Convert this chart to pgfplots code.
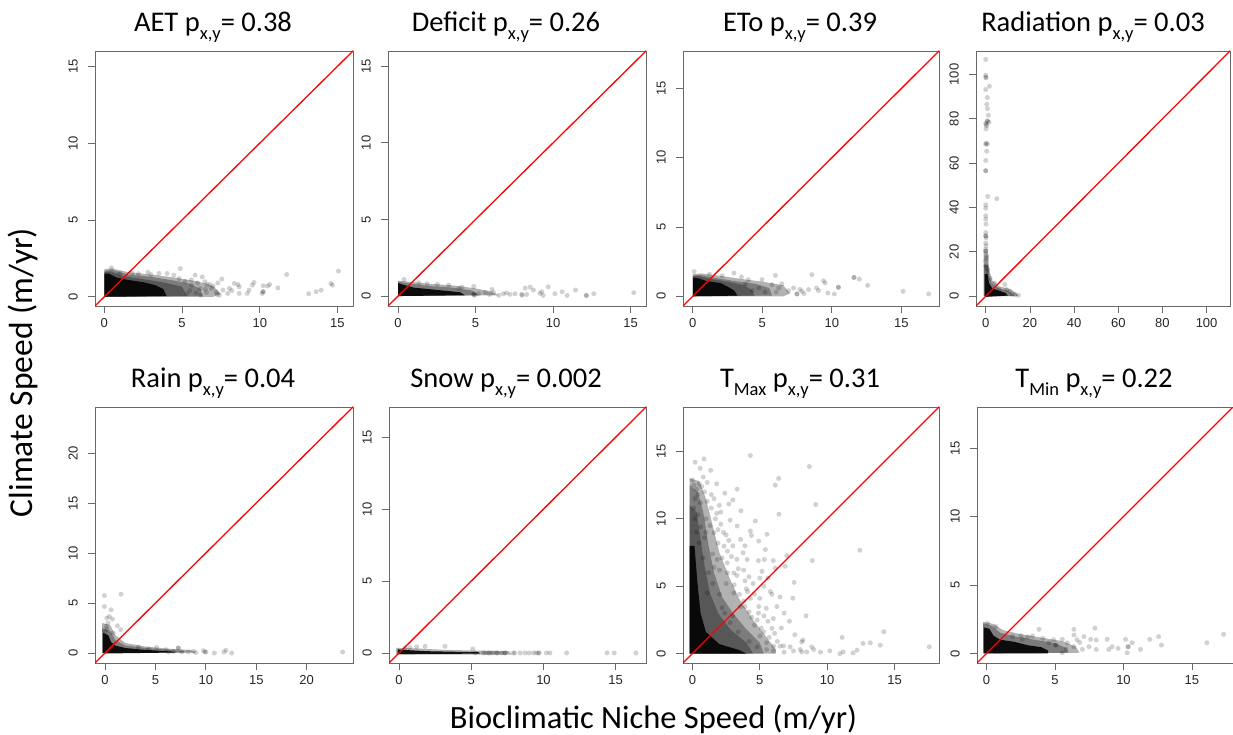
\documentclass[border=0pt]{standalone}
\usepackage{pgfplots}
\pgfplotsset{compat=1.18}
\usepackage{fontspec}
\setmainfont{Carlito}
\newfontfamily\arialf{Liberation Sans}
\newcommand{\sub}[1]{\raisebox{-0.27em}{\fontsize{18.5}{18.5}\selectfont #1}}
\definecolor{framegray}{RGB}{105,105,105}
\pgfplotsset{
  panel/.style={
    scale only axis, anchor=south west,
    axis line style={draw=framegray, line width=0.8pt},
    tick style={draw=framegray, line width=0.8pt},
    tick align=outside, tick pos=left, major tick length=7pt,
    tick label style={font=\arialf\fontsize{13}{13}\selectfont, text=black!85},
    /pgf/number format/assume math mode=true,
    xticklabel style={anchor=north, inner sep=0pt},
    yticklabel style={rotate=90, anchor=south, inner sep=0pt},
    xticklabel shift=5pt, yticklabel shift=10pt,
    clip=true,
  },
  pts/.style={only marks, mark=*, mark size=2.5pt, mark options={draw opacity=0, fill=black, fill opacity=0.18}},
  core/.style={draw=none, fill=black, fill opacity=0.9},
  lay/.style={draw=none, fill=black, fill opacity=0.3},
  diag/.style={red, line width=1.3pt},
}
\begin{document}
\begin{tikzpicture}[x=1pt,y=1pt]
\useasboundingbox (0,0) rectangle (1233,734);
% ---------------- AET
\begin{axis}[panel, at={(95pt,428pt)}, width=258pt, height=255pt,
  xmin=-0.6, xmax=16.0, ymin=-0.6, ymax=16.0, xtick={0,5,10,15}, ytick={0,5,10,15}]
\addplot[lay] coordinates {(0,0)(0,1.8)(0.5,1.85)(1.5,1.6)(3,1.45)(4.5,1.25)(6,1.0)(7,0.7)(7.5,0.2)(7,0)(0,0)};
\addplot[lay] coordinates {(0,0)(0,1.7)(0.5,1.75)(1.5,1.45)(3,1.3)(4.5,1.05)(5.5,0.85)(6.2,0.5)(6.3,0.05)(0,0)};
\addplot[lay] coordinates {(0,0)(0,1.6)(0.4,1.65)(1.2,1.35)(2.5,1.15)(4,0.9)(5,0.65)(5.3,0.05)(0,0)};
\addplot[core] coordinates {(0,0)(0,1.5)(0.3,1.5)(0.8,1.25)(1.5,1.1)(2.5,0.95)(3.3,0.75)(3.8,0.5)(4.0,0.05)(0,0)};
\addplot[pts] coordinates {(15.06,1.67)(14.58,0.87)(14.68,0.76)(13.95,0.43)(13.63,0.33)(13.15,0.2)(11.73,1.45)(11.17,0.58)(10.64,0.8)(10.22,0.72)(10.22,0.33)(10.15,0.22)(9.63,0.93)(9.52,0.76)(9.31,0.43)(9.2,0.22)(8.68,0.65)(8.68,0.22)(8.36,0.87)(8.05,0.54)(7.94,0.22)(7.56,1.15)(7.63,0.43)(7.27,0.15)(6.89,0.54)(6.78,0.8)(6.57,0.28)(6.47,0.98)(6.3,1.3)(5.84,1.41)(6.15,0.54)(5.62,0.76)(4.89,1.84)(4.82,1.19)(4.47,1.41)(4.04,1.52)(3.52,1.52)(0.46,1.89)(0.99,1.52)(2.2,1.5)(3,1.45)(5.2,1.0)(5.5,0.4)(6.0,0.9)(7.0,0.7)(7.2,0.3)(8.2,0.4)(5.3,0.2)(6.2,0.1)(2.8,1.6)(1.8,1.55)(10.5,0.7)(8.6,0.8)(6.5,0.5)(10.22,0.33)(7.4,0.1)(5.6,1.1)(6.6,0.8)(7.3,0.9)(5.9,0.25)};
\addplot[diag] coordinates {(-10,-10)(200,200)};
\end{axis}
% ---------------- Deficit
\begin{axis}[panel, at={(388pt,428pt)}, width=258pt, height=255pt,
  xmin=-0.65, xmax=16.0, ymin=-0.65, ymax=16.0, xtick={0,5,10,15}, ytick={0,5,10,15}]
\addplot[lay] coordinates {(0,0)(0,1.0)(0.6,0.95)(2,0.8)(3.5,0.7)(5,0.5)(6,0.3)(6.5,0.05)(0,0)};
\addplot[lay] coordinates {(0,0)(0,0.95)(0.5,0.85)(2,0.65)(3.5,0.55)(4.8,0.35)(5.2,0.05)(0,0)};
\addplot[core] coordinates {(0,0)(0,0.85)(0.3,0.75)(1,0.55)(2,0.45)(3,0.35)(4,0.25)(4.3,0.05)(0,0)};
\addplot[pts] coordinates {(15.21,0.22)(12.63,0.15)(12.15,0.04)(11.45,0.39)(10.91,0.04)(10.59,0.28)(10.12,0.15)(9.69,0.6)(9.37,0.04)(9.27,0.28)(9.16,0.17)(8.52,0.58)(8.73,0.39)(8.2,0.52)(7.98,0.11)(7.55,0.15)(7.23,0.11)(6.8,0.15)(6.16,0.22)(6.06,0.43)(5.63,0.22)(4.88,0.63)(4.88,0.11)(4.12,0.58)(3.92,0.5)(3.27,0.71)(2.53,0.76)(1.88,0.8)(1.35,0.86)(0.39,1.08)(5.2,0.15)(5.9,0.1)(6.5,0.05)(7.0,0.2)(8.0,0.05)(4.95,0.05)(8.3,0.1)(4.88,0.11)(12.15,0.04)};
\addplot[diag] coordinates {(-10,-10)(200,200)};
\end{axis}
% ---------------- ETo
\begin{axis}[panel, at={(683pt,428pt)}, width=256pt, height=255pt,
  xmin=-0.7, xmax=17.7, ymin=-0.7, ymax=17.7, xtick={0,5,10,15}, ytick={0,5,10,15}]
\addplot[lay] coordinates {(0,0)(0,1.6)(0.6,1.65)(1.8,1.5)(3.5,1.25)(5,1.05)(6.5,0.8)(7,0.2)(6.5,0)(0,0)};
\addplot[lay] coordinates {(0,0)(0,1.5)(0.5,1.55)(1.5,1.35)(3,1.1)(4.5,0.9)(5.5,0.6)(5.7,0.05)(0,0)};
\addplot[lay] coordinates {(0,0)(0,1.45)(0.5,1.45)(1.3,1.25)(2.5,1.05)(3.7,0.8)(4.3,0.4)(4.4,0.05)(0,0)};
\addplot[core] coordinates {(0,0)(0,1.35)(0.4,1.3)(1,1.1)(2,0.95)(2.5,0.7)(3,0.4)(3.2,0.05)(0,0)};
\addplot[pts] coordinates {(16.96,0.17)(15.12,0.36)(12.57,0.79)(11.97,1.24)(11.59,1.36)(10.47,0.65)(10.18,0.17)(9.71,0.24)(9.52,0.96)(9.4,1.12)(9.04,0.41)(8.56,1.56)(8.32,0.48)(7.85,0.36)(7.49,0.17)(7.25,0.6)(6.89,0.41)(5.94,1.51)(6.18,0.6)(5.7,0.84)(4.98,1.2)(4.75,0.6)(4.27,0.41)(2.96,1.67)(2.12,1.48)(0.1,1.79)(3.5,1.4)(4,1.2)(5.2,0.3)(6,0.3)(6.4,0.9)(7.7,0.5)(8,0.2)(8.9,0.6)(3.8,0.9)(1.2,1.6)(11.59,1.36)(7.49,0.17)(10.47,0.65)};
\addplot[diag] coordinates {(-10,-10)(200,200)};
\end{axis}
% ---------------- Radiation
\begin{axis}[panel, at={(976pt,428pt)}, width=254pt, height=255pt,
  xmin=-4.4, xmax=110.6, ymin=-4.4, ymax=110.6, xtick={0,20,40,60,80,100}, ytick={0,20,40,60,80,100}]
\addplot[lay] coordinates {(-1,0)(-1,20)(1,20)(1.5,12)(3,7)(6,4.5)(10,3.5)(13,2)(15,0)(-1,0)};
\addplot[lay] coordinates {(-0.8,0)(-0.8,14)(1,14)(1.5,9)(3,5.5)(6,3.5)(10,2.5)(12,1)(13,0)(-0.8,0)};
\addplot[core] coordinates {(-0.5,0)(-0.5,10)(0.8,10)(1.5,6)(3,3.5)(6,2.5)(9,1.5)(10,0.3)(0,-0.3)};
\addplot[pts] coordinates {(0,106.8)(0,99.7)(0.15,98.5)(1.66,94.7)(0,93.2)(0.75,89.6)(0.45,86.6)(0.75,84.6)(1.2,81.6)(0.75,79)(1.5,78.5)(0.45,77)(0.15,75.5)(0.15,69)(0.75,68.7)(0.45,65.4)(0,61.2)(0,56.6)(0,56.6)(0.9,45)(5,44)(0,41.2)(0,39.7)(0,36.3)(0,34.7)(0.15,32.5)(0,28.7)(0,27.2)(0.15,26.4)(0.15,22.7)(0,20.4)(0.45,18.1)(0,15.9)(0,13.6)(0.45,11.3)(0.75,9.8)(14.8,0.45)(13.3,0.76)(11,2.3)(8.7,5.3)(9.5,3)(0,24)(0,21)(0.3,17)(0.2,14)(0.5,12.5)(1,12)(0,78)(0.2,77.5)(0,68.5)(2,8)(4,6)(6,3)(12,1)(0,20.4)(0,27.2)(0.75,79)(0,98.8)};
\addplot[diag] coordinates {(-10,-10)(200,200)};
\end{axis}
% ---------------- Rain
\begin{axis}[panel, at={(95pt,71pt)}, width=258pt, height=256pt,
  xmin=-1.0, xmax=24.6, ymin=-1.0, ymax=24.6, xtick={0,5,10,15,20}, ytick={0,5,10,15,20}]
\addplot[lay] coordinates {(-0.3,0)(-0.3,3.0)(0.5,2.8)(1,1.8)(2,1.0)(4,0.65)(6,0.45)(8.5,0.3)(9,0.05)(-0.3,0)};
\addplot[lay] coordinates {(-0.3,0)(-0.3,2.5)(0.5,2.2)(1,1.3)(2,0.75)(4,0.5)(6,0.35)(7.8,0.2)(8,0.05)(-0.3,0)};
\addplot[core] coordinates {(-0.2,0)(-0.2,2.0)(0.3,1.8)(0.6,1.1)(1,0.75)(2,0.5)(3.5,0.35)(5,0.25)(6.5,0.15)(7,0.05)(0,-0.05)};
\addplot[pts] coordinates {(23.57,0.1)(12.56,0)(12,0.27)(11.8,0.1)(10.84,0)(9.92,0.1)(9.75,0.23)(8.76,0.17)(8.26,0.1)(7.27,0.5)(6.78,0.17)(6.05,0.33)(5.12,0.56)(4.3,0.4)(3.3,0.6)(-0.07,5.75)(1.59,5.88)(-0.07,4.65)(0.6,4.32)(0.17,3.49)(0.43,3.65)(0.73,3.39)(1.22,2.72)(1.55,2.33)(0.1,2.66)(0,2.16)(0.3,3.0)(0.8,2.0)(0.2,2.4)(7.6,0.1)(9.0,0.05)(10,0.1)(6.3,0.1)(7.27,0.5)};
\addplot[diag] coordinates {(-10,-10)(200,200)};
\end{axis}
% ---------------- Snow
\begin{axis}[panel, at={(389pt,71pt)}, width=257pt, height=256pt,
  xmin=-0.7, xmax=17.1, ymin=-0.7, ymax=17.1, xtick={0,5,10,15}, ytick={0,5,10,15}]
\addplot[lay] coordinates {(-0.2,-0.12)(-0.2,0.35)(1,0.32)(3,0.22)(5,0.17)(7.6,0.12)(7.8,-0.12)(-0.2,-0.12)};
\addplot[core] coordinates {(-0.1,-0.07)(-0.1,0.25)(0.5,0.2)(2,0.12)(4,0.08)(5.5,0.05)(5.6,-0.05)(0,-0.08)};
\addplot[pts] coordinates {(16.4,0)(14.9,0)(14.4,0)(11.6,0)(10.45,0)(10.2,0)(9.65,0)(9.3,0)(8.72,0)(8.38,0)(7.9,0)(7.34,0)(6.76,0)(6.3,0)(5.84,0)(5.26,0)(5.1,0.28)(3.18,0.46)(1.8,0.46)(1.22,0.42)(0.76,0.35)(0.42,0.35)(9.0,0)(8.0,0)(7.1,0)(6.5,0)(6.0,0)(9.5,0)(9.7,0)(7.34,0)(6.8,0)(6.2,0)};
\addplot[diag] coordinates {(-10,-10)(200,200)};
\end{axis}
% ---------------- TMax
\begin{axis}[panel, at={(683pt,71pt)}, width=256pt, height=256pt,
  xmin=-0.7, xmax=18.3, ymin=-0.7, ymax=18.3, xtick={0,5,10,15}, ytick={0,5,10,15}]
\addplot[lay] coordinates {(-0.2,0)(-0.2,13)(0.5,12.8)(1.0,11.5)(1.5,9.5)(2.0,7.5)(2.8,5.5)(3.5,4)(4.5,2.5)(5.5,1.2)(6.2,0.3)(6.2,0)(-0.2,0)};
\addplot[lay] coordinates {(-0.2,0)(-0.2,12.5)(0.4,12)(0.8,10.5)(1.2,8)(1.6,6)(2.2,4.2)(3,3)(4,1.8)(5,0.8)(5.3,0)(-0.2,0)};
\addplot[lay] coordinates {(-0.2,0)(-0.2,11)(0.3,10.5)(0.6,8.5)(0.9,6.5)(1.3,4.5)(1.9,3)(2.8,1.8)(4,0.8)(4.5,0)(-0.2,0)};
\addplot[core] coordinates {(-0.2,0)(-0.2,8)(0.15,8)(0.35,5.5)(0.6,3)(1,1.6)(2,0.7)(3.5,0.25)(4,0)(-0.2,0)};
\addplot[pts] coordinates {(17.58,0.5)(14.2,1.62)(13.94,0.62)(13.2,0.8)(12.66,0.75)(12.42,7.67)(12.22,0.25)(11.92,0.05)(11.11,1.2)(11.19,0.12)(10.94,0)(9.15,11.06)(8.85,0.5)(8.68,13.88)(8.9,6.9)(8.48,0.12)(8.11,0.12)(8.43,2.8)(8.11,0.87)(7.45,4.11)(7.55,5.28)(7.0,7.28)(6.88,6.48)(6.76,0.57)(6.52,0.55)(6.42,10.34)(6.4,13.0)(6.15,12.5)(6.15,6.35)(6.02,0.55)(5.78,4.6)(5.53,8.85)(5.41,7.72)(5.34,6.98)(5.16,6.1)(4.67,9.84)(4.92,8.35)(4.3,14.7)(4.3,9.1)(4.38,8.77)(3.32,12.2)(2.7,11.1)(2.1,10.5)(1.35,13.6)(0.86,14.45)(0.57,13.75)(4.92,3.49)(5.48,3.36)(6.27,3.49)(4.8,2.49)(5.29,1.62)(5.9,1.87)(7.25,0.5)(8,0.3)(3.32,9.47)(3.57,8.47)(3.76,7.48)(4.06,6.98)(3.07,5.98)(2.58,6.73)(2.34,7.97)(1.6,8.97)(1.84,6.98)(1.1,4.49)(3.07,4.49)(3.57,3.49)
(0,12.9)(0.1,12.5)(0.3,12.2)(0.5,12.6)(0.9,12.0)(0.2,11.5)(0.6,11.2)(1.1,11.3)(1.4,10.8)(1.8,10.4)(0.1,10.8)(0.4,10.3)(1,10)(1.3,9.5)(1.9,9.2)(2.3,9.0)(2.7,8.4)(3.0,8.0)(2.9,7.2)(3.3,7.0)(3.8,6.2)(4.2,5.7)(4.5,5.2)(4.0,4.8)(4.6,4.4)(5.0,4.1)(5.3,5.0)(5.6,5.6)(6.0,6.9)(6.5,4.2)(6.8,3.0)(7.2,2.4)(7.6,1.4)(8.2,1.0)(9.0,0.3)(9.5,0.1)(10.2,0.2)(5.5,0.8)(6.0,0.2)(6.8,0.1)(7.5,0.2)(5.0,1.3)(4.6,2.1)(4.2,3.1)(3.8,3.9)(2.5,5.2)(2.0,6.2)(1.5,7.4)(2.2,3.4)(2.8,2.3)(3.4,1.6)(4.2,0.9)(4.8,0.5)(5.5,0.3)(0.2,14.2)(1.8,12.6)(2.4,11.9)(3.0,11.4)
(0.3,9.0)(0.5,8.2)(0.8,7.1)(0.2,10.0)(0.9,8.6)(1.2,6.0)(0.6,9.4)(1.5,5.2)(2.0,4.4)(2.4,3.0)(3.0,2.8)(0.4,11.8)(0.7,12.4)(1.0,9.0)(1.6,6.4)
(1.9,8.2)(2.2,7.1)(2.6,6.0)(3.1,5.1)(3.5,4.4)(3.9,3.5)(4.4,2.7)(5.1,1.9)(5.7,1.2)(6.3,0.9)(2.1,9.6)(2.6,7.6)(3.4,6.3)(3.9,5.4)(4.3,4.1)(4.9,3.0)(5.6,2.4)(6.1,1.5)(6.6,1.9)(1.4,11.8)(1.1,12.7)(2.0,11.0)(2.8,9.9)(3.6,10.6)(3.9,8.0)(4.9,6.9)(5.0,5.6)(5.9,4.4)(1.7,10.0)(2.5,8.8)(0.8,13.1)(1.6,11.5)(3.3,5.8)(4.1,4.6)(5.3,2.8)(6.0,2.6)};
\addplot[diag] coordinates {(-10,-10)(200,200)};
\end{axis}
% ---------------- TMin
\begin{axis}[panel, at={(977pt,71pt)}, width=256pt, height=256pt,
  xmin=-0.7, xmax=18.0, ymin=-0.7, ymax=18.0, xtick={0,5,10,15}, ytick={0,5,10,15}]
\addplot[lay] coordinates {(-0.25,0)(-0.25,2.3)(0.5,2.15)(1.2,1.7)(2.5,1.4)(4,1.15)(5.5,0.9)(6.5,0.5)(6.8,0.05)(-0.25,0)};
\addplot[lay] coordinates {(-0.25,0)(-0.25,2.2)(0.4,2.0)(1,1.5)(2,1.25)(3.5,1.0)(5,0.75)(5.8,0.4)(6,0.05)(-0.25,0)};
\addplot[core] coordinates {(-0.2,0)(-0.2,1.9)(0.2,1.8)(0.5,1.3)(1,1.0)(2,0.85)(3,0.6)(4,0.45)(4.5,0.2)(4.5,0)(-0.2,0)};
\addplot[pts] coordinates {(17.31,1.4)(16.09,0.78)(12.77,0.61)(12.57,1.23)(11.92,1.03)(11.24,0.29)(10.63,0.78)(10.34,0.49)(10.15,1.03)(10.27,0.05)(9.61,0.37)(9.17,0.49)(8.93,0.29)(8.81,1.03)(8.01,0.29)(7.91,1.84)(8.01,0.98)(7.6,1.03)(7.48,0.49)(7.11,1.23)(6.38,1.76)(6.38,1.35)(6.38,0.49)(5.9,0.78)(5.53,0.05)(5.53,1.03)(5.05,0.61)(4.56,0.78)(3.83,1.76)(3.35,1.27)(2.62,1.03)(1.89,1.23)(0.68,1.96)(0.07,2.2)(6.8,0.8)(7.0,0.3)(5.8,0.3)(6.6,1.0)(2.5,1.3)(3,1.2)(4.1,1.1)(4.9,1.0)(10.34,0.49)(5.05,0.61)};
\addplot[diag] coordinates {(-10,-10)(200,200)};
\end{axis}
% ---------------- titles and labels
\node[anchor=base, font=\fontsize{28.5}{32}\selectfont] at (213,702) {AET p\sub{x,y}= 0.38};
\node[anchor=base, font=\fontsize{28.5}{32}\selectfont] at (506,702) {Deficit p\sub{x,y}= 0.26};
\node[anchor=base, font=\fontsize{28.5}{32}\selectfont] at (800,702) {ETo p\sub{x,y}= 0.39};
\node[anchor=base, font=\fontsize{28.5}{32}\selectfont] at (1093,702) {Radiation p\sub{x,y}= 0.03};
\node[anchor=base, font=\fontsize{28.5}{32}\selectfont] at (213,346) {Rain p\sub{x,y}= 0.04};
\node[anchor=base, font=\fontsize{28.5}{32}\selectfont] at (506,346) {Snow p\sub{x,y}= 0.002};
\node[anchor=base, font=\fontsize{28.5}{32}\selectfont] at (800,346) {T\sub{Max} p\sub{x,y}= 0.31};
\node[anchor=base, font=\fontsize{28.5}{32}\selectfont] at (1094,346) {T\sub{Min} p\sub{x,y}= 0.22};
\node[anchor=base, font=\fontsize{32.5}{36}\selectfont] at (653.5,6) {Bioclimatic Niche Speed (m/yr)};
\node[anchor=base, rotate=90, font=\fontsize{33.5}{36}\selectfont] at (32,361.5) {Climate Speed (m/yr)};
\end{tikzpicture}
\end{document}
